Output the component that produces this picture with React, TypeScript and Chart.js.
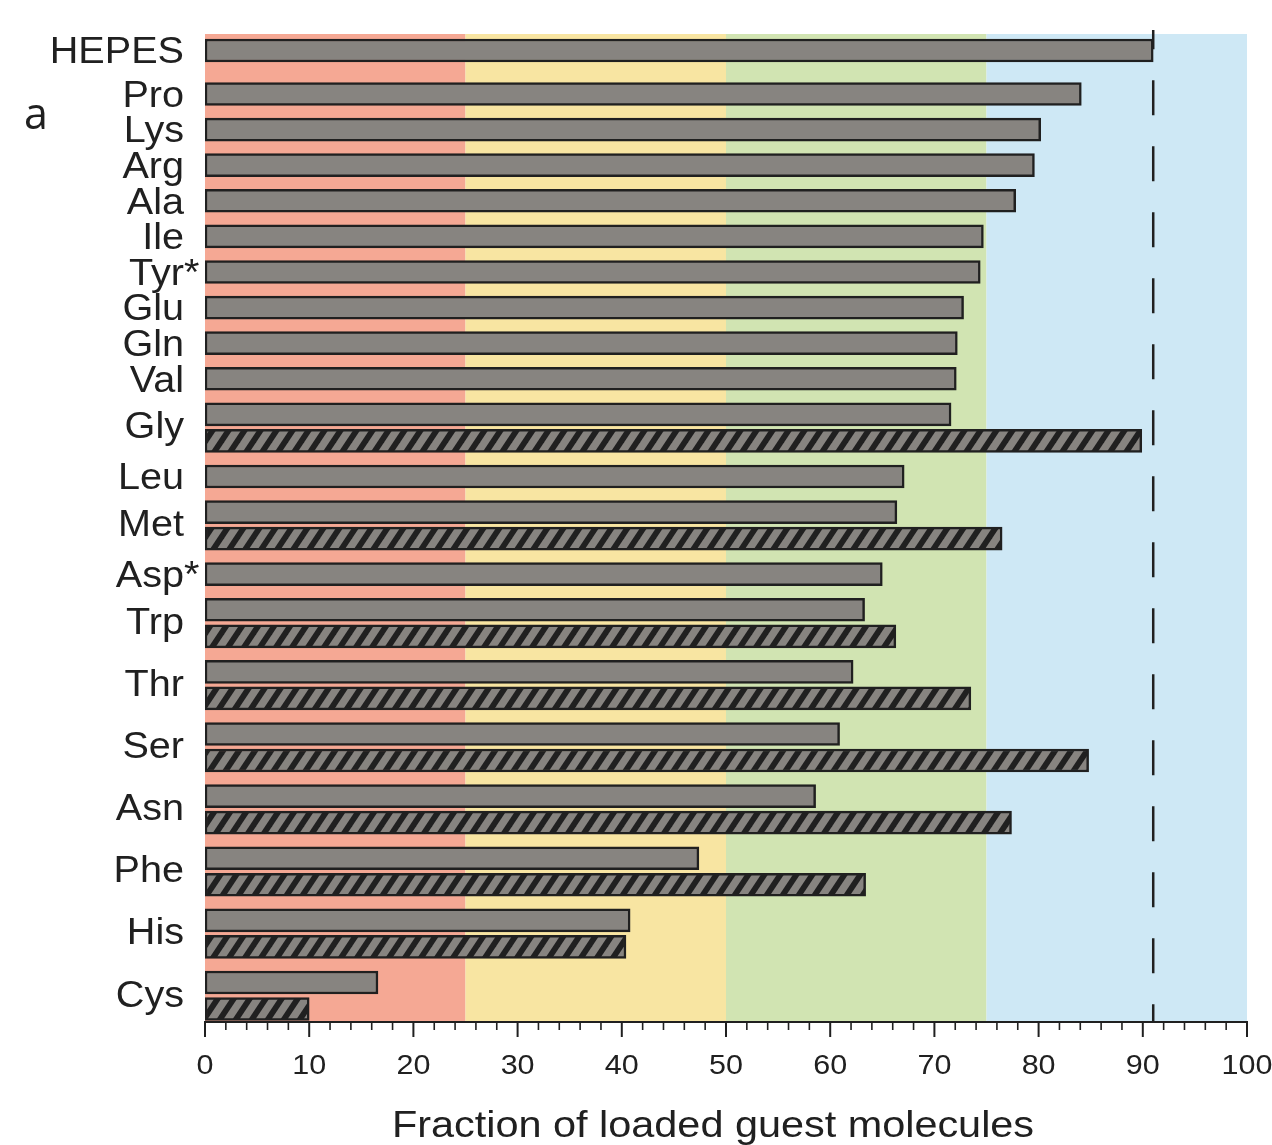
import React, { useEffect, useRef } from "react";
import { Chart, registerables } from "chart.js";

Chart.register(...registerables);

// ---------- data ----------
const categories = [
  "HEPES", "Pro", "Lys", "Arg", "Ala", "Ile", "Tyr*", "Glu", "Gln", "Val",
  "Gly", "Leu", "Met", "Asp*", "Trp", "Thr", "Ser", "Asn", "Phe", "His", "Cys",
];
const solidValues = [
  91.0, 84.1, 80.2, 79.6, 77.8, 74.7, 74.4, 72.8, 72.2, 72.1,
  71.6, 67.1, 66.4, 65.0, 63.3, 62.2, 60.9, 58.6, 47.4, 40.8, 16.6,
];
const hatchedValues: (number | null)[] = [
  null, null, null, null, null, null, null, null, null, null,
  89.9, null, 76.5, null, 66.3, 73.5, 84.8, 77.4, 63.4, 40.4, 10.0,
];
const referenceValue = 91;
const bandEdges = [0, 25, 50, 75, 100];
const majorTicks = [0, 10, 20, 30, 40, 50, 60, 70, 80, 90, 100];
const minorStep = 2;
const xTitle = "Fraction of loaded guest molecules";
const panelLabel = "a";

// ---------- styles / layout ----------
const BAND_COLORS = ["#F5A894", "#F8E5A2", "#D1E4B2", "#CEE8F5"];
const BAR_FILL = "#878480";
const INK = "#202020";
const FONT = "'Liberation Sans', Arial, sans-serif";
const GROUP_STEP = 1;
const PAIR_STEP = 0.745;
const CONTROL_STEP = 1.222;
const TOP_MARGIN = 0.463;
const BOTTOM_MARGIN = 0.365;

// row positions derived from the category structure
const solidPos: number[] = [];
const hatchedPos: (number | null)[] = [];
const labelPos: number[] = [];
let cursor = 0;
categories.forEach((_, i) => {
  if (i > 0) cursor += i === 1 ? CONTROL_STEP : GROUP_STEP;
  solidPos[i] = cursor;
  if (hatchedValues[i] != null) {
    cursor += PAIR_STEP;
    hatchedPos[i] = cursor;
    labelPos[i] = solidPos[i] + PAIR_STEP * 0.42;
  } else {
    hatchedPos[i] = null;
    labelPos[i] = cursor;
  }
});
const yMin = -TOP_MARGIN;
const yMax = cursor + BOTTOM_MARGIN;

function makeHatch(): CanvasPattern | string {
  const W = 16;
  const H = 24;
  const c = document.createElement("canvas");
  c.width = W;
  c.height = H;
  const g = c.getContext("2d");
  if (!g) return BAR_FILL;
  g.fillStyle = BAR_FILL;
  g.fillRect(0, 0, W, H);
  g.fillStyle = INK;
  const sw = 7;
  for (let k = -2; k <= 1; k++) {
    const x0 = k * W;
    g.beginPath();
    g.moveTo(x0, H);
    g.lineTo(x0 + sw, H);
    g.lineTo(x0 + sw + W, 0);
    g.lineTo(x0 + W, 0);
    g.closePath();
    g.fill();
  }
  return g.createPattern(c, "repeat") || BAR_FILL;
}

const decorPlugin = {
  id: "decor",
  beforeDatasetsDraw(chart: any) {
    const { ctx, chartArea } = chart;
    const xs = chart.scales.x;
    ctx.save();
    for (let i = 0; i < BAND_COLORS.length; i++) {
      const x0 = xs.getPixelForValue(bandEdges[i]);
      const x1 = xs.getPixelForValue(bandEdges[i + 1]);
      ctx.fillStyle = BAND_COLORS[i];
      ctx.fillRect(x0, chartArea.top, x1 - x0, chartArea.bottom - chartArea.top);
    }
    ctx.restore();
  },
  afterDatasetsDraw(chart: any) {
    const { ctx, chartArea } = chart;
    const xs = chart.scales.x;
    const ys = chart.scales.y;
    ctx.save();

    // dashed reference line
    const rx = xs.getPixelForValue(referenceValue);
    ctx.strokeStyle = INK;
    ctx.lineWidth = 2.5;
    ctx.setLineDash([35, 31]);
    ctx.lineDashOffset = 15.7;
    ctx.beginPath();
    ctx.moveTo(rx, chartArea.top - 4);
    ctx.lineTo(rx, chartArea.bottom);
    ctx.stroke();
    ctx.setLineDash([]);

    // x axis line
    const by = chartArea.bottom;
    ctx.lineWidth = 2;
    ctx.beginPath();
    ctx.moveTo(chartArea.left - 1, by);
    ctx.lineTo(chartArea.right + 1, by);
    ctx.stroke();

    // ticks
    for (let v = 0; v <= 100; v += minorStep) {
      const px = xs.getPixelForValue(v);
      const major = majorTicks.includes(v);
      ctx.lineWidth = major ? 2 : 1.6;
      ctx.beginPath();
      ctx.moveTo(px, by);
      ctx.lineTo(px, by + (major ? 15 : 8));
      ctx.stroke();
    }

    // tick labels
    ctx.fillStyle = INK;
    ctx.font = `27px ${FONT}`;
    ctx.textAlign = "center";
    ctx.textBaseline = "alphabetic";
    majorTicks.forEach((v) => {
      const px = xs.getPixelForValue(v);
      ctx.save();
      ctx.translate(px, by + 51.5);
      ctx.scale(1.13, 1);
      ctx.fillText(String(v), 0, 0);
      ctx.restore();
    });

    // axis title
    ctx.font = `36px ${FONT}`;
    ctx.textAlign = "left";
    ctx.save();
    ctx.translate(chartArea.left + 187, by + 114.7);
    ctx.scale(1.15, 1);
    ctx.fillText(xTitle, 0, 0);
    ctx.restore();

    // category labels
    ctx.font = `36px ${FONT}`;
    const capHalf = 0.716 * 36 / 2;
    categories.forEach((name, i) => {
      const py = ys.getPixelForValue(labelPos[i]);
      const star = name.endsWith("*");
      const base = star ? name.slice(0, -1) : name;
      ctx.save();
      ctx.translate(chartArea.left - 21, py + capHalf);
      ctx.scale(1.1, 1);
      ctx.textAlign = "right";
      ctx.fillText(base, 0, 0);
      if (star) {
        ctx.textAlign = "left";
        ctx.fillText("*", 0, 0);
      }
      ctx.restore();
    });

    // panel letter
    ctx.font = `43px 'Open Sans', ${FONT}`;
    ctx.textAlign = "left";
    ctx.fillText(panelLabel, 24, 129);

    ctx.restore();
  },
};

export default function App() {
  const canvasRef = useRef<HTMLCanvasElement | null>(null);

  useEffect(() => {
    const canvas = canvasRef.current;
    if (!canvas) return;
    const hatch = makeHatch();
    const common = {
      borderColor: INK,
      borderWidth: 2.5,
      borderSkipped: false,
      barThickness: 23,
      grouped: false,
    };
    const chart = new Chart(canvas, {
      type: "bar",
      data: {
        datasets: [
          {
            label: "solid",
            data: categories.map((_, i) => ({ x: solidValues[i], y: solidPos[i] })),
            backgroundColor: BAR_FILL,
            ...common,
          } as any,
          {
            label: "hatched",
            data: categories.flatMap((_, i) =>
              hatchedValues[i] == null ? [] : [{ x: hatchedValues[i] as number, y: hatchedPos[i] as number }]
            ),
            backgroundColor: hatch,
            ...common,
          } as any,
        ],
      },
      options: {
        indexAxis: "y",
        animation: false,
        responsive: false,
        devicePixelRatio: 1,
        layout: { padding: { left: 205, right: 25, top: 34, bottom: 123 } },
        plugins: {
          legend: { display: false },
          tooltip: { enabled: false },
        },
        scales: {
          x: { type: "linear", min: 0, max: 100, display: false },
          y: { type: "linear", min: yMin, max: yMax, reverse: true, offset: false, display: false },
        },
      } as any,
      plugins: [decorPlugin],
    });
    return () => chart.destroy();
  }, []);

  return (
    <div style={{ position: "absolute", left: 0, top: 0, width: 1272, height: 1145, background: "#fff" }}>
      <canvas ref={canvasRef} width={1272} height={1145} style={{ display: "block" }} />
    </div>
  );
}
